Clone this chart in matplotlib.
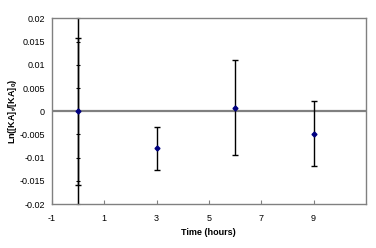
import matplotlib
matplotlib.use('Agg')
import matplotlib.pyplot as plt

# datos
horas = [0, 3, 6, 9]
ln_ratio = [0.0, -0.0080, 0.0008, -0.0049]
error = [0.0158, 0.0046, 0.0102, 0.007]
# la barra grande en t=0 que se sale del eje
horas_extra = [0]
ln_extra = [0.0]
error_extra = [0.03]

x_ticks = [-1, 1, 3, 5, 7, 9]
y_ticks = [-0.02, -0.015, -0.01, -0.005, 0, 0.005, 0.01, 0.015, 0.02]
y_labels = ['-0.02', '-0.015', '-0.01', '-0.005', '0', '0.005', '0.01', '0.015', '0.02']

plt.rcParams['font.family'] = ['Liberation Sans', 'DejaVu Sans']
plt.rcParams['mathtext.fontset'] = 'custom'
plt.rcParams['mathtext.rm'] = 'Liberation Sans'
plt.rcParams['mathtext.bf'] = 'Liberation Sans:bold'

fig = plt.figure(figsize=(3.76, 2.48), dpi=100)
ax = fig.add_axes([0.138, 0.177, 0.835, 0.749])

gris = '#808080'
for s in ax.spines.values():
    s.set_color(gris)
    s.set_linewidth(1)

ax.axhline(0, color=gris, lw=1.6, zorder=1)

ax.errorbar(horas_extra, ln_extra, yerr=error_extra, fmt='none',
            ecolor='black', elinewidth=1, capsize=0, zorder=2)
ax.errorbar(horas, ln_ratio, yerr=error, fmt='D', color='#000080',
            markersize=2.5, ecolor='black', elinewidth=1, capsize=2.5,
            capthick=1, zorder=3)

ax.set_xlim(-1, 11)
ax.set_ylim(-0.02, 0.02)
ax.set_xticks(x_ticks)
ax.set_xticklabels([str(t) for t in x_ticks])
ax.set_yticks(y_ticks)
ax.set_yticklabels(y_labels)
ax.tick_params(axis='x', direction='in', length=3, color=gris, labelsize=6.5, pad=7)
ax.tick_params(axis='y', length=0, labelsize=6.5, pad=5)

# eje vertical en x = 0 con sus marcas
eje = ax.secondary_yaxis(1 / 12)
eje.spines['left'].set_color('black')
eje.set_yticks(y_ticks)
eje.set_yticklabels([])
eje.tick_params(axis='y', direction='inout', length=3, color='black')

ax.set_xlabel('Time (hours)', fontsize=6.5, fontweight='bold', labelpad=4)
ax.set_ylabel(r'Ln([KA]$_\mathbf{t}$/[KA]$_\mathbf{0}$)', fontsize=6.5,
              fontweight='bold', labelpad=0)

plt.savefig('out.png', dpi=100)
